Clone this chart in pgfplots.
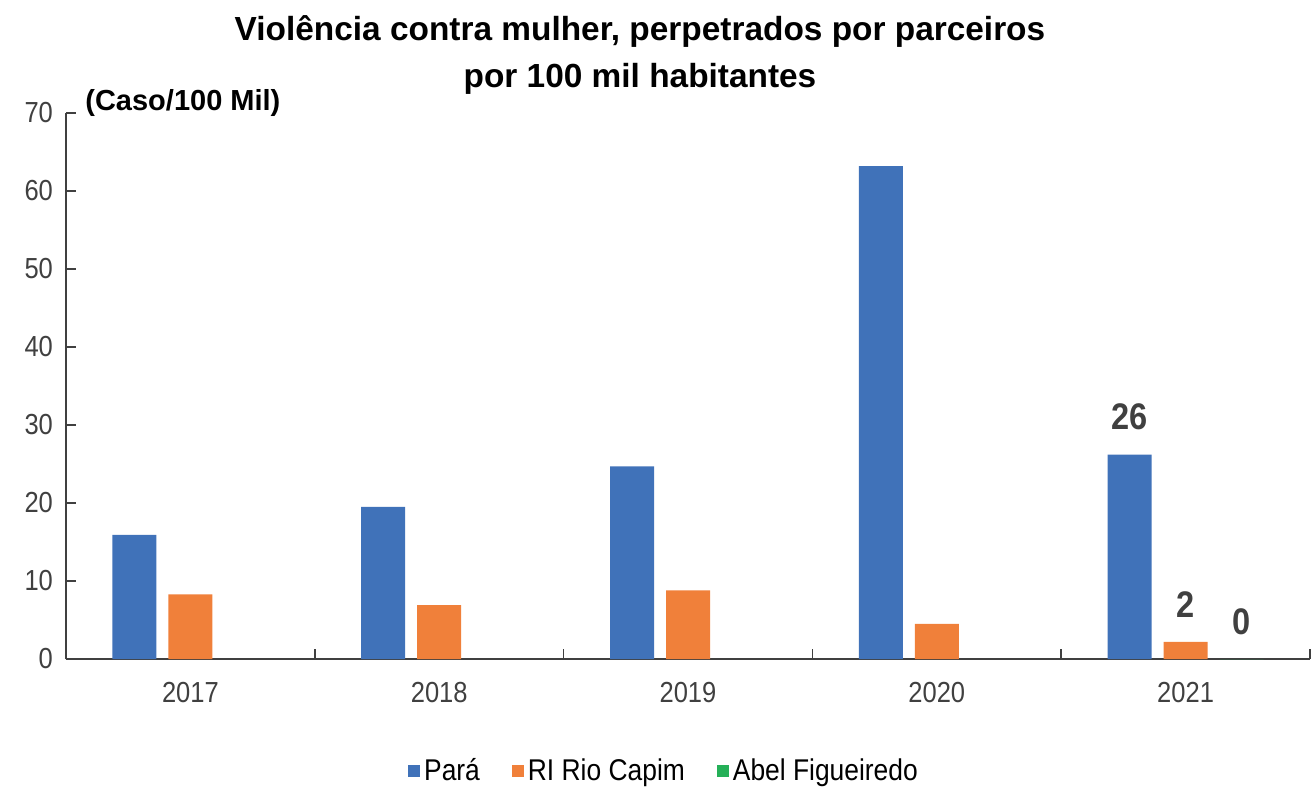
\documentclass[border=0pt]{standalone}
\usepackage{pgfplots}
\pgfplotsset{compat=1.18}
\usepackage{fontspec}
\setmainfont{Liberation Sans}[FakeStretch=0.88]
\newfontfamily\widefont{Liberation Sans}
\definecolor{para}{RGB}{64,114,185}
\definecolor{rio}{RGB}{240,128,58}
\definecolor{abel}{RGB}{37,176,88}
\definecolor{txt}{RGB}{64,64,64}

\begin{document}
\begin{tikzpicture}
\path[use as bounding box] (-33pt,-64pt) rectangle (624.5pt,329.5pt);
\begin{axis}[
  scale only axis,
  width=622pt, height=273pt,
  at={(0,0)}, anchor=south west,
  clip=false,
  ybar=6pt, bar width=22pt,
  xmin=-0.5, xmax=4.5,
  ymin=0, ymax=70,
  ytick={0,10,...,70},
  xtick={-0.5,0.5,...,4.5},
  xticklabels={},
  extra x ticks={0,1,2,3,4},
  extra x tick labels={2017,2018,2019,2020,2021},
  extra x tick style={major tick length=0pt, xticklabel style={yshift=-8pt}},
  axis x line*=bottom, axis y line*=left,
  axis line style={black!75, line width=1pt},
  tick style={black!75, line width=0.8pt},
  tick align=inside, major tick length=5pt,
  tick label style={font=\fontsize{14.5}{16}\selectfont, text=txt},
  /pgf/number format/assume math mode=true,
  yticklabel style={xshift=-3pt},
  point meta=explicit symbolic,
  nodes near coords,
  nodes near coords style={font=\bfseries\fontsize{18.5}{20}\selectfont, text=txt, inner sep=0pt, yshift=12pt},
  legend columns=-1,
  legend style={at={(0.4815,-0.205)}, anchor=center, draw=none,
    font=\fontsize{15}{17}\selectfont,
    /tikz/every even column/.append style={column sep=14pt}},
  legend image code/.code={\fill[#1] (0pt,-3pt) rectangle (6pt,3pt);},
]
\addplot[fill=para, draw=none] coordinates {
  (0,15.9)[] (1,19.5)[] (2,24.7)[] (3,63.2)[] (4,26.2)[26]
};
\addlegendentry{Pará}
\addplot[fill=rio, draw=none] coordinates {
  (0,8.3)[] (1,6.9)[] (2,8.8)[] (3,4.5)[] (4,2.2)[2]
};
\addlegendentry{RI Rio Capim}
\addplot[fill=abel, draw=none] coordinates {
  (4,0)[0]
};
\addlegendentry{Abel Figueiredo}
\node[anchor=west, inner sep=0pt, font=\widefont\bfseries\fontsize{14.5}{17}\selectfont] at ([xshift=9.5pt,yshift=5pt]rel axis cs:0,1) {(Caso/100 Mil)};
\node[anchor=south, inner sep=0pt, align=center, font=\widefont\bfseries\fontsize{16.7}{23.5}\selectfont]
  at ([xshift=-24pt,yshift=9pt]rel axis cs:0.5,1)
  {Violência contra mulher, perpetrados por parceiros\\por 100 mil habitantes};
\end{axis}
\end{tikzpicture}
\end{document}
